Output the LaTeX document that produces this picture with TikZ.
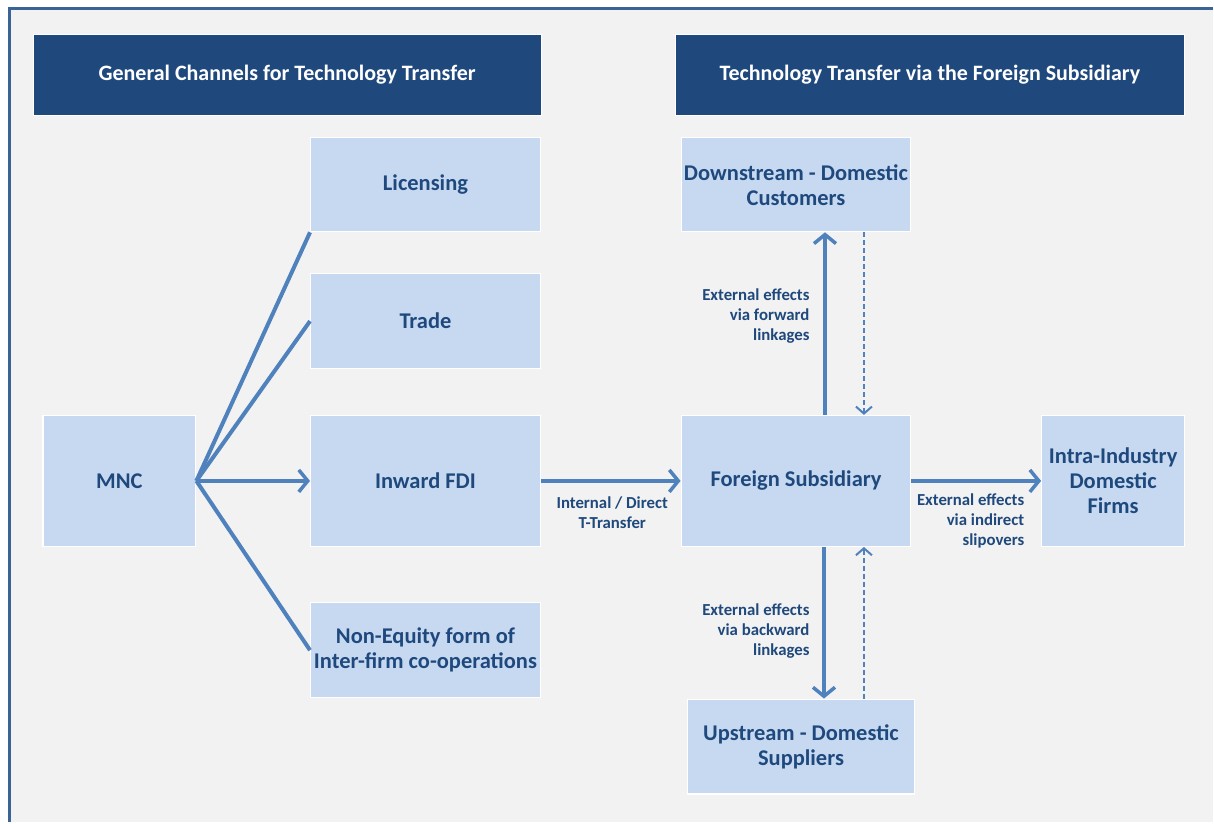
\documentclass[tikz,border=0pt]{standalone}
\usepackage{fontspec}
\setmainfont{Carlito}
\usepackage{xcolor}
\usepackage{tikz}
\usetikzlibrary{arrows.meta,positioning,calc}
\definecolor{headblue}{RGB}{31,73,125}
\definecolor{boxblue}{RGB}{198,217,241}
\definecolor{arrblue}{RGB}{79,129,189}
\definecolor{framblue}{RGB}{59,99,150}
\definecolor{panelgray}{RGB}{242,242,242}

\tikzset{
  headbox/.style={fill=headblue, draw=white, line width=0.8pt, text=white,
    font=\fontsize{22}{26}\selectfont\bfseries, inner sep=0pt},
  chanbox/.style={fill=boxblue, draw=white, line width=1.2pt, text=headblue,
    font=\fontsize{22.5}{25}\selectfont\bfseries, align=center, inner sep=0pt},
  flowlab/.style={text=headblue, font=\fontsize{16.8}{20}\selectfont\bfseries},
  flow/.style={draw=arrblue, line width=4pt,
    -{Straight Barb[length=9pt,width=22pt,line width=3.5pt]}},
  feedback/.style={draw=arrblue, line width=2pt, dash pattern=on 5pt off 3pt,
    -{Straight Barb[length=7pt,width=16pt,line width=2pt]}},
  branch/.style={draw=arrblue, line width=4pt}
}

\begin{document}
\begin{tikzpicture}[x=1pt, y=-1pt]
  % panel and frame
  \fill[white] (0,0) rectangle (1214,823);
  \fill[panelgray] (10,9) rectangle (1214,823);
  \draw[framblue, line width=3pt] (10,823) -- (10,9) -- (1214,9);
  \useasboundingbox (0,0) rectangle (1214,823);

  % headers
  \node[headbox, minimum width=509pt, minimum height=81pt] (hleft) at (287.5,75)
    {General Channels for Technology Transfer};
  \node[headbox, minimum width=510pt, minimum height=81pt] (hright) at (931,75)
    {Technology Transfer via the Foreign Subsidiary};

  % left side: channels
  \node[chanbox, minimum width=153pt, minimum height=131pt] (mnc) at (119.5,481.5) {MNC};
  \node[chanbox, minimum width=230pt, minimum height=94pt] (lic) at (426,185) {Licensing};
  \node[chanbox, minimum width=230pt, minimum height=95pt] (trade) at (426,321.5) {Trade};
  \node[chanbox, minimum width=230pt, minimum height=131pt] (fdi) at (426,481.5) {Inward FDI};
  \node[chanbox, minimum width=230pt, minimum height=95pt] (neq) at (426,651)
    {Non-Equity form of\\Inter-firm co-operations};

  % right side: subsidiary
  \node[chanbox, minimum width=230pt, minimum height=94pt] (down) at (797,185)
    {Downstream - Domestic\\Customers};
  \node[chanbox, minimum width=230pt, minimum height=131pt] (fsub) at (797,481.5)
    {Foreign Subsidiary};
  \node[chanbox, minimum width=228pt, minimum height=95pt] (up) at (802,747.5)
    {Upstream - Domestic\\Suppliers};
  \node[chanbox, minimum width=143pt, minimum height=131pt] (intra) at (1114.5,481.5)
    {Intra-Industry\\Domestic\\Firms};

  % branches from MNC
  \draw[branch] (mnc.east) -- (lic.south west);
  \draw[branch] (mnc.east) -- (trade.west);
  \draw[flow] (mnc.east) -- (fdi.west);
  \draw[branch] (mnc.east) -- (neq.west);

  % transfer to subsidiary
  \draw[flow] (fdi.east) -- (fsub.west);
  \node[flowlab, align=center] (lint) at (613,513) {Internal / Direct\\T-Transfer};

  % forward linkages
  \draw[flow] ([xshift=29pt]fsub.north) -- ([xshift=29pt]fsub.north |- down.south);
  \draw[feedback] ([xshift=68pt]fsub.north |- down.south) -- ([xshift=68pt]fsub.north);
  \node[flowlab, align=right, anchor=east] (lfwd) at (814,316)
    {External effects\\via forward\\linkages};

  % backward linkages
  \draw[flow] ([xshift=28pt]fsub.south) -- ([xshift=28pt]fsub.south |- up.north);
  \draw[feedback] ([xshift=68pt]fsub.south |- up.north) -- ([xshift=68pt]fsub.south);
  \node[flowlab, align=right, anchor=east] (lbwd) at (814,632)
    {External effects\\via backward\\linkages};

  % spillovers
  \draw[flow] (fsub.east) -- (intra.west);
  \node[flowlab, align=right, anchor=east] (lspill) at (1029,522)
    {External effects\\via indirect\\slipovers};
\end{tikzpicture}
\end{document}
